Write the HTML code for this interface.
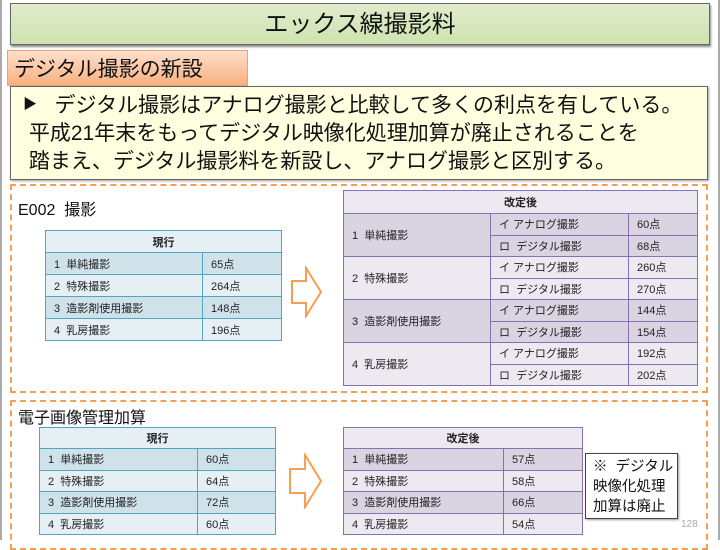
<!DOCTYPE html>
<html><head><meta charset="utf-8"><style>
*{margin:0;padding:0;box-sizing:border-box}
body{width:720px;height:540px;position:relative;background:#fff;font-family:"Liberation Sans","Noto Sans CJK JP",sans-serif;overflow:hidden}
.a{position:absolute}
table{border-collapse:collapse;position:absolute;font-size:11px;color:#222}
td{padding:0 0 0 8px;white-space:nowrap}
.b td{border:1px solid #4fa6c4}
.b tr:nth-child(even) td{background:#cfe2ea}
.b tr:nth-child(odd) td{background:#e6eff4}
.p td{border:1px solid #8a6fb4}
.p .d td{background:#d9d3e2}
.p .l td{background:#ece9f1}
th{font-weight:bold;font-size:11px;border:1px solid;text-align:center}
.b th{border-color:#4fa6c4;background:#e6eff4}
.p th{border-color:#8a6fb4;background:#ece9f1}
</style></head><body>
<div class="a" style="left:0;top:0;width:720px;height:540px;border-left:2px solid #aaa;border-right:2px solid #aaa"></div>
<div class="a" style="left:10px;top:3px;width:700px;height:42px;background:linear-gradient(#e0eccc,#cfe3b0);border:1px solid #666;box-shadow:1px 2px 2px #888;text-align:center;font-size:24px;line-height:42px;color:#111">エックス線撮影料</div>
<div class="a" style="left:7px;top:50px;width:241px;height:36px;background:linear-gradient(#fde0cc,#f8b080);border:1px solid #f0a070;font-size:21px;line-height:38px;padding-left:6px;color:#111">デジタル撮影の新設</div>
<div class="a" style="left:10px;top:86px;width:698px;height:94px;background:#ffffe0;border:1px solid #666;box-shadow:1px 1px 2px #999;font-size:21px;line-height:28px;color:#111;padding:3px 0 0 12px;white-space:nowrap"><span style="font-size:14px;vertical-align:3px">▶</span>&nbsp;&nbsp; デジタル撮影はアナログ撮影と比較して多くの利点を有している。<br>&nbsp;平成21年末をもってデジタル映像化処理加算が廃止されることを<br>&nbsp;踏まえ、デジタル撮影料を新設し、アナログ撮影と区別する。</div>
<div class="a" style="left:10px;top:184px;width:698px;height:209px;border:2px dashed #f4a050"></div>
<div class="a" style="left:10px;top:400px;width:698px;height:150px;border:2px dashed #f4a050"></div>
<div class="a" style="left:18px;top:196px;font-size:16px;color:#111">E002&nbsp;&nbsp;撮影</div>
<table class="b" style="left:45px;top:230px;width:237px">
<tr style="height:22px"><th colspan="2">現行</th></tr>
<tr style="height:22px"><td style="width:157px">1&nbsp; 単純撮影</td><td>65点</td></tr>
<tr style="height:22px"><td>2&nbsp; 特殊撮影</td><td>264点</td></tr>
<tr style="height:22px"><td>3&nbsp; 造影剤使用撮影</td><td>148点</td></tr>
<tr style="height:22px"><td>4&nbsp; 乳房撮影</td><td>196点</td></tr>
</table>
<svg class="a" style="left:290px;top:266px" width="34" height="52"><polygon points="2,15 16,15 16,2 31,26 16,50 16,37 2,37" fill="#fff" stroke="#f4a050" stroke-width="2"/></svg>
<table class="p" style="left:343px;top:190px;width:355px">
<tr style="height:23px"><th colspan="3">改定後</th></tr>
<tr class="d" style="height:21.5px"><td rowspan="2" style="width:147px">1&nbsp; 単純撮影</td><td style="width:138px">イ アナログ撮影</td><td>60点</td></tr>
<tr class="d" style="height:21.5px"><td>ロ&nbsp; デジタル撮影</td><td>68点</td></tr>
<tr class="l" style="height:21.5px"><td rowspan="2">2&nbsp; 特殊撮影</td><td>イ アナログ撮影</td><td>260点</td></tr>
<tr class="l" style="height:21.5px"><td>ロ&nbsp; デジタル撮影</td><td>270点</td></tr>
<tr class="d" style="height:21.5px"><td rowspan="2">3&nbsp; 造影剤使用撮影</td><td>イ アナログ撮影</td><td>144点</td></tr>
<tr class="d" style="height:21.5px"><td>ロ&nbsp; デジタル撮影</td><td>154点</td></tr>
<tr class="l" style="height:21.5px"><td rowspan="2">4&nbsp; 乳房撮影</td><td>イ アナログ撮影</td><td>192点</td></tr>
<tr class="l" style="height:21.5px"><td>ロ&nbsp; デジタル撮影</td><td>202点</td></tr>
</table>
<div class="a" style="left:18px;top:404px;font-size:16px;color:#111">電子画像管理加算</div>
<table class="b" style="left:39px;top:427px;width:237px">
<tr style="height:21px"><th colspan="2">現行</th></tr>
<tr style="height:21.5px"><td style="width:158px">1&nbsp; 単純撮影</td><td>60点</td></tr>
<tr style="height:21.5px"><td>2&nbsp; 特殊撮影</td><td>64点</td></tr>
<tr style="height:21.5px"><td>3&nbsp; 造影剤使用撮影</td><td>72点</td></tr>
<tr style="height:21.5px"><td>4&nbsp; 乳房撮影</td><td>60点</td></tr>
</table>
<svg class="a" style="left:288px;top:453px" width="36" height="56"><polygon points="2,16 17,16 17,2 33,28 17,54 17,40 2,40" fill="#fff" stroke="#f4a050" stroke-width="2"/></svg>
<table class="p" style="left:343px;top:427px;width:240px">
<tr style="height:21px"><th colspan="2">改定後</th></tr>
<tr class="d" style="height:21.5px"><td style="width:160px">1&nbsp; 単純撮影</td><td>57点</td></tr>
<tr class="l" style="height:21.5px"><td>2&nbsp; 特殊撮影</td><td>58点</td></tr>
<tr class="d" style="height:21.5px"><td>3&nbsp; 造影剤使用撮影</td><td>66点</td></tr>
<tr class="l" style="height:21.5px"><td>4&nbsp; 乳房撮影</td><td>54点</td></tr>
</table>
<div class="a" style="left:585px;top:453px;width:93px;height:66px;border:1px solid #444;box-shadow:1px 1px 2px #999;background:#fff;font-size:14.5px;line-height:20px;padding:3px 0 0 7px;color:#111">※&nbsp; デジタル<br>映像化処理<br>加算は廃止</div>
<div class="a" style="left:681px;top:519px;font-size:10px;color:#aaa">128</div>
</body></html>
